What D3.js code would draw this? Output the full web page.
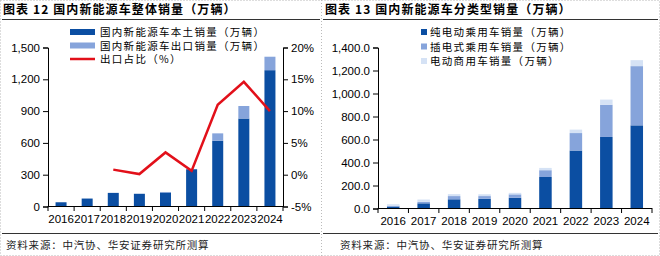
<!DOCTYPE html>
<html>
<head>
<meta charset="utf-8">
<script src="https://cdn.jsdelivr.net/npm/d3@7"></script>
<style>
  body { margin: 0; background: #fff; }
  svg text { font-family: "Liberation Sans", Arial, sans-serif; fill: #000; }
  .cn { font-family: "Noto Sans CJK SC", sans-serif; }
</style>
</head>
<body>
<svg id="chart" width="660" height="256"></svg>
<script>
const years = ["2016","2017","2018","2019","2020","2021","2022","2023","2024"];

// left chart
const domestic = [40, 75, 128, 120, 132, 352, 620, 830, 1286];
const exportSales = [0, 0, 1, 0, 5, 2, 70, 118, 127];
const exportRatio = [null, null, 0.8, 0.1, 3.5, 0.6, 11.0, 14.6, 10.0];
const leftTicks = [0, 300, 600, 900, 1200, 1500];
const rightTicks = [-5, 0, 5, 10, 15, 20];

// right chart
const bev = [17, 45, 80, 84, 93, 274, 504, 622, 723];
const phev = [6, 13, 28, 24, 30, 59, 152, 280, 515];
const commercial = [14, 20, 17, 16, 13, 20, 30, 45, 52];
const right2Ticks = [0, 200, 400, 600, 800, 1000, 1200, 1400];

const dark = "#0b4ea2", mid = "#86a4db", light = "#d5e2f5", red = "#e2101a";

const svg = d3.select("#chart");

// frame: dotted borders, title rules, source rules
const frame = svg.append("g");
frame.append("rect").attr("x", 0.5).attr("y", 0.5).attr("width", 659).attr("height", 255)
  .attr("fill", "none").attr("stroke", "#bbb").attr("stroke-dasharray", "1,2");
frame.append("line").attr("x1", 321.5).attr("x2", 321.5).attr("y1", 0).attr("y2", 256)
  .attr("stroke", "#bbb").attr("stroke-dasharray", "1,2");
[[2, 320], [323, 658]].forEach(([a, b]) => {
  frame.append("line").attr("x1", a).attr("x2", b).attr("y1", 19.5).attr("y2", 19.5)
    .attr("stroke", "#333").attr("stroke-width", 1);
  frame.append("line").attr("x1", a).attr("x2", b).attr("y1", 233.5).attr("y2", 233.5)
    .attr("stroke", "#333").attr("stroke-width", 1);
});

frame.append("text").attr("class", "cn").attr("x", 3).attr("y", 14)
  .style("font-size", "12px").style("font-weight", "bold").style("letter-spacing", "1.1px")
  .text("图表 12  国内新能源车整体销量（万辆）");
frame.append("text").attr("class", "cn").attr("x", 325).attr("y", 14)
  .style("font-size", "12px").style("font-weight", "bold").style("letter-spacing", "1.1px")
  .text("图表 13  国内新能源车分类型销量（万辆）");
frame.append("text").attr("class", "cn").attr("x", 6).attr("y", 249)
  .style("font-size", "10.5px").style("fill", "#222").style("letter-spacing", "0.8px")
  .text("资料来源：中汽协、华安证券研究所测算");
frame.append("text").attr("class", "cn").attr("x", 340).attr("y", 249)
  .style("font-size", "10.5px").style("fill", "#222").style("letter-spacing", "0.8px")
  .text("资料来源：中汽协、华安证券研究所测算");

function bandAxis(g, x, y0) {
  g.append("line").attr("x1", x.range()[0]).attr("x2", x.range()[1])
    .attr("y1", y0 + 0.5).attr("y2", y0 + 0.5).attr("stroke", "#000");
  const edges = years.map(d => x(d) - x.step() * x.paddingOuter()).concat([x.range()[1]]);
  g.selectAll(".edge").data(edges).join("line")
    .attr("x1", d => d).attr("x2", d => d)
    .attr("y1", y0).attr("y2", y0 + 5).attr("stroke", "#000");
  g.selectAll(".lab").data(years).join("text")
    .attr("x", d => x(d) + x.bandwidth() / 2).attr("y", y0 + 17)
    .attr("text-anchor", "middle").style("font-size", "11.5px").text(d => d);
}

function styleAxis(g) {
  g.select(".domain").attr("stroke", "#000");
  g.selectAll(".tick line").attr("stroke", "#000");
  g.selectAll(".tick text").style("font-size", "11.5px").style("font-family", "Liberation Sans, Arial, sans-serif");
}

// ---- left chart ----
const x1 = d3.scaleBand().domain(years).range([48, 283]).paddingInner(0).paddingOuter(0);
const y1 = d3.scaleLinear().domain([0, 1500]).range([206.5, 47.5]);
const yr = d3.scaleLinear().domain([-5, 20]).range([206.5, 47.5]);
const bw1 = 11;

const left = svg.append("g");
left.selectAll(".dom").data(years).join("rect")
  .attr("x", d => x1(d) + (x1.bandwidth() - bw1) / 2)
  .attr("y", (d, i) => y1(domestic[i]))
  .attr("width", bw1)
  .attr("height", (d, i) => y1(0) - y1(domestic[i]))
  .attr("fill", dark);
left.selectAll(".exp").data(years).join("rect")
  .attr("x", d => x1(d) + (x1.bandwidth() - bw1) / 2)
  .attr("y", (d, i) => y1(domestic[i] + exportSales[i]))
  .attr("width", bw1)
  .attr("height", (d, i) => y1(domestic[i]) - y1(domestic[i] + exportSales[i]))
  .attr("fill", mid);

const line = d3.line()
  .defined(d => d[1] != null)
  .x(d => x1(d[0]) + x1.bandwidth() / 2)
  .y(d => yr(d[1]));
left.append("path").datum(years.map((d, i) => [d, exportRatio[i]]))
  .attr("d", line).attr("fill", "none").attr("stroke", red).attr("stroke-width", 2.5);

left.append("g").attr("transform", "translate(48,0)")
  .call(d3.axisLeft(y1).tickValues(leftTicks).tickSize(5).tickPadding(3).tickFormat(d3.format(",")))
  .call(styleAxis);
left.append("g").attr("transform", "translate(283,0)")
  .call(d3.axisRight(yr).tickValues(rightTicks).tickSize(5).tickPadding(3).tickFormat(d => d + "%"))
  .call(styleAxis);
bandAxis(left.append("g"), x1, 206);

// left legend
const leg1 = [
  {name: "国内新能源车本土销量（万辆）", type: "bar", color: dark},
  {name: "国内新能源车出口销量（万辆）", type: "bar", color: mid},
  {name: "出口占比（%）", type: "line", color: red}
];
const lg1 = left.append("g");
leg1.forEach((d, i) => {
  const yy = 32 + i * 13.5;
  if (d.type === "bar") {
    lg1.append("rect").attr("x", 70).attr("y", yy - 3).attr("width", 25).attr("height", 6).attr("fill", d.color);
  } else {
    lg1.append("line").attr("x1", 70).attr("x2", 95).attr("y1", yy).attr("y2", yy)
      .attr("stroke", d.color).attr("stroke-width", 2.5);
  }
  lg1.append("text").attr("class", "cn").attr("x", 100).attr("y", yy + 4)
    .style("font-size", "10.5px").style("letter-spacing", "1.3px").text(d.name);
});

// ---- right chart ----
const x2 = d3.scaleBand().domain(years).range([378, 652]).paddingInner(0).paddingOuter(0);
const y2 = d3.scaleLinear().domain([0, 1400]).range([208.5, 47.5]);
const bw2 = 12.5;

const stackData = years.map((d, i) => ({year: d, bev: bev[i], phev: phev[i], commercial: commercial[i]}));
const series = d3.stack().keys(["bev", "phev", "commercial"])(stackData);
const colors2 = {bev: dark, phev: mid, commercial: light};

const right = svg.append("g");
right.selectAll(".s").data(series).join("g")
  .attr("fill", s => colors2[s.key])
  .selectAll("rect").data(s => s).join("rect")
  .attr("x", d => x2(d.data.year) + (x2.bandwidth() - bw2) / 2)
  .attr("y", d => y2(d[1]))
  .attr("width", bw2)
  .attr("height", d => y2(d[0]) - y2(d[1]));

right.append("g").attr("transform", "translate(378,0)")
  .call(d3.axisLeft(y2).tickValues(right2Ticks).tickSize(5).tickPadding(3).tickFormat(d3.format(",.1f")))
  .call(styleAxis);
bandAxis(right.append("g"), x2, 208);

const leg2 = [
  {name: "纯电动乘用车销量（万辆）", color: dark},
  {name: "插电式乘用车销量（万辆）", color: mid},
  {name: "电动商用车销量（万辆）", color: light}
];
const lg2 = right.append("g");
leg2.forEach((d, i) => {
  const yy = 32 + i * 14.5;
  lg2.append("rect").attr("x", 421).attr("y", yy - 3).attr("width", 6).attr("height", 6).attr("fill", d.color);
  lg2.append("text").attr("class", "cn").attr("x", 430).attr("y", yy + 4)
    .style("font-size", "10.5px").style("letter-spacing", "1.3px").text(d.name);
});
</script>
</body>
</html>
